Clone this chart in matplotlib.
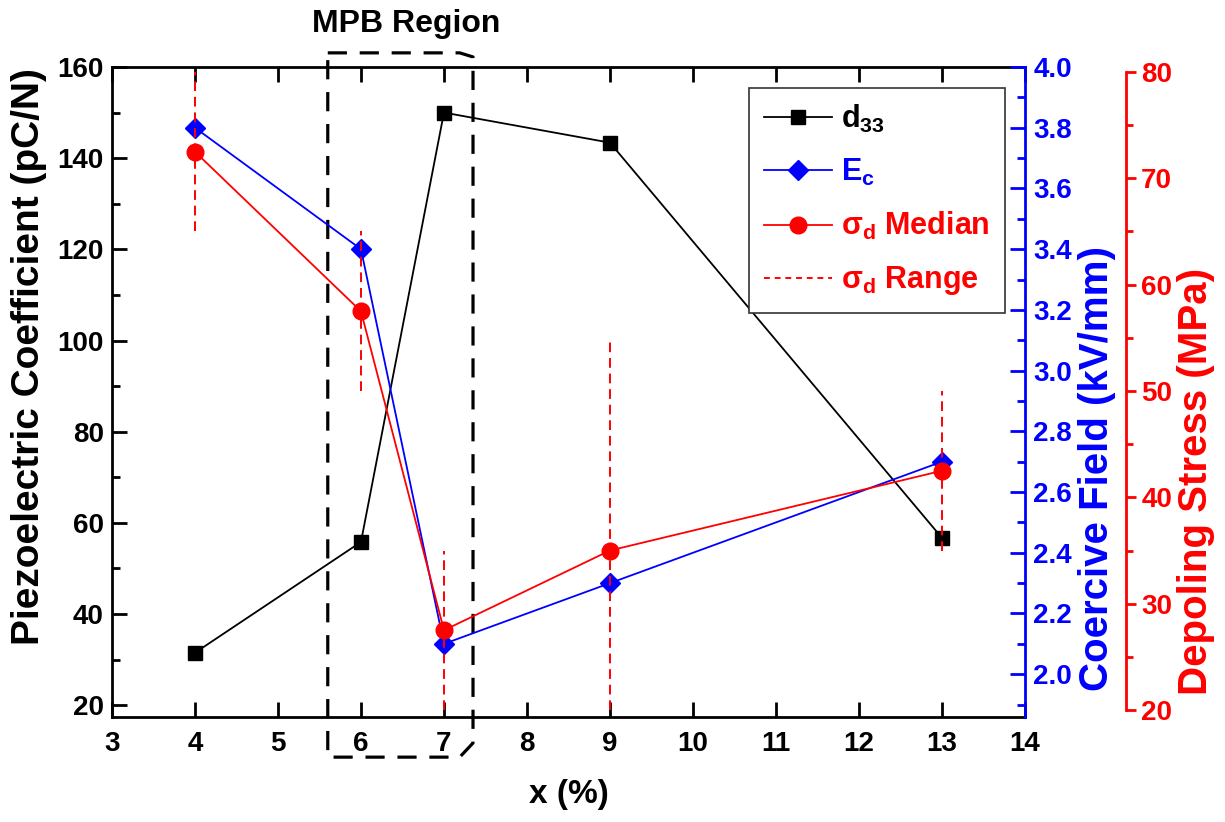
import matplotlib
matplotlib.use("Agg")
import matplotlib.pyplot as plt
from matplotlib.ticker import MultipleLocator, FormatStrFormatter

plt.rcParams['font.family'] = ['Liberation Sans', 'DejaVu Sans']
plt.rcParams['font.weight'] = 'bold'
plt.rcParams['axes.labelweight'] = 'bold'
plt.rcParams['mathtext.fontset'] = 'custom'
plt.rcParams['mathtext.rm'] = 'Liberation Sans:bold'
plt.rcParams['mathtext.it'] = 'Liberation Sans:bold'
plt.rcParams['mathtext.bf'] = 'Liberation Sans:bold'

# data
x = [4, 6, 7, 9, 13]
d33 = [31.5, 55.8, 150.0, 143.4, 56.7]
ec = [3.8, 3.4, 2.1, 2.3, 2.7]
sigma_med = [72.5, 57.5, 27.5, 35.0, 42.5]
sigma_lo = [65, 50, 20, 20, 35]
sigma_hi = [80, 65, 35, 55, 50]
x_ticks = list(range(3, 15))

# MPB region box (data units of the d33 axis)
mpb_x = [5.6, 7.19, 7.35]
mpb_y = [8.6, 11.7, 162.2, 163.1]

BLUE = '#0000ff'
RED = '#ff0000'
TICK_FS = 20

fig = plt.figure(figsize=(12.25, 8.22), dpi=100)
ax = fig.add_axes([0.0914, 0.1277, 0.7453, 0.7908])
ax2 = ax.twinx()
ax3 = ax.twinx()

# d33
l1, = ax.plot(x, d33, color='black', lw=1.3, marker='s', ms=10, zorder=3)
ax.set_xlim(3, 14)
ax.set_ylim(17.4, 160)
ax.set_xticks(x_ticks)
ax.yaxis.set_major_locator(MultipleLocator(20))
ax.yaxis.set_minor_locator(MultipleLocator(10))
ax.tick_params(axis='both', which='both', direction='in', width=2, labelsize=TICK_FS)
ax.tick_params(axis='x', which='both', top=True, length=11, pad=10)
ax.tick_params(axis='y', which='major', length=11, pad=6)
ax.tick_params(axis='y', which='minor', length=6)
ax.tick_params(axis='y', which='both', right=False)
for s in ax.spines.values():
    s.set_linewidth(2)
ax.spines['right'].set_visible(False)
ax.set_xlabel('x (%)', fontsize=24, labelpad=16)
ax.set_ylabel('Piezoelectric Coefficient (pC/N)', fontsize=28)
ax.yaxis.set_label_coords(-0.071, 0.554)

# Ec
l2, = ax2.plot(x, ec, color=BLUE, lw=1.3, marker='D', ms=10, zorder=3)
ax2.set_ylim(1.859, 4.0)
ax2.yaxis.set_major_locator(MultipleLocator(0.2))
ax2.yaxis.set_minor_locator(MultipleLocator(0.1))
ax2.yaxis.set_major_formatter(FormatStrFormatter('%.1f'))
ax2.tick_params(axis='y', which='both', direction='in', width=2, colors=BLUE, labelsize=TICK_FS)
ax2.tick_params(axis='y', which='major', length=11, pad=6)
ax2.tick_params(axis='y', which='minor', length=6)
for k in ['left', 'top', 'bottom']:
    ax2.spines[k].set_visible(False)
ax2.spines['right'].set_color(BLUE)
ax2.spines['right'].set_linewidth(2)
ax2.set_ylabel('Coercive Field (kV/mm)', fontsize=29, color=BLUE, rotation=90)
ax2.yaxis.set_label_coords(1.058, 0.383)

# depoling stress
ax3.vlines(x, sigma_lo, sigma_hi, colors=RED, lw=1.4, linestyles=(0, (5, 3)), zorder=4)
l3, = ax3.plot(x, sigma_med, color=RED, lw=1.3, marker='o', ms=12, zorder=5)
ax3.set_ylim(19.34, 80.47)
ax3.spines['right'].set_position(('axes', 1.1106))
ax3.spines['right'].set_bounds(20, 80)
ax3.yaxis.set_major_locator(MultipleLocator(10))
ax3.yaxis.set_minor_locator(MultipleLocator(5))
ax3.tick_params(axis='y', which='both', direction='out', width=2, colors=RED, labelsize=TICK_FS)
ax3.tick_params(axis='y', which='major', length=7, pad=4)
ax3.tick_params(axis='y', which='minor', length=5)
for k in ['left', 'top', 'bottom']:
    ax3.spines[k].set_visible(False)
ax3.spines['right'].set_color(RED)
ax3.spines['right'].set_linewidth(2)
ax3.set_ylabel('Depoling Stress (MPa)', fontsize=29, color=RED, rotation=90)
ax3.yaxis.set_label_coords(1.166, 0.363)

# MPB region
bx = [mpb_x[0], mpb_x[1], mpb_x[2], mpb_x[2], mpb_x[1], mpb_x[0], mpb_x[0]]
by = [mpb_y[3], mpb_y[3], mpb_y[2], mpb_y[1], mpb_y[0], mpb_y[0], mpb_y[3]]
ax.plot(bx, by, color='black', lw=2.3, ls=(0, (6, 4)), clip_on=False, zorder=2)
ax.text(6.54, 169.5, 'MPB Region', ha='center', va='center', fontsize=23, clip_on=False)

# legend
rng = matplotlib.lines.Line2D([], [], color=RED, lw=1.4, ls=(0, (3, 2.5)))
leg = ax3.legend([l1, l2, l3, rng],
                 ['d$_{33}$', 'E$_{c}$', 'σ$_{d}$ Median', 'σ$_{d}$ Range'],
                 loc='upper right', bbox_to_anchor=(0.978, 0.968), fontsize=22,
                 fancybox=False, edgecolor='#333333', framealpha=1,
                 borderaxespad=0, handlelength=2.2, handletextpad=0.3,
                 labelspacing=0.72, borderpad=0.5,
                 labelcolor=['black', BLUE, RED, RED])
leg.get_frame().set_linewidth(1.2)

fig.savefig('out.png', dpi=100)
